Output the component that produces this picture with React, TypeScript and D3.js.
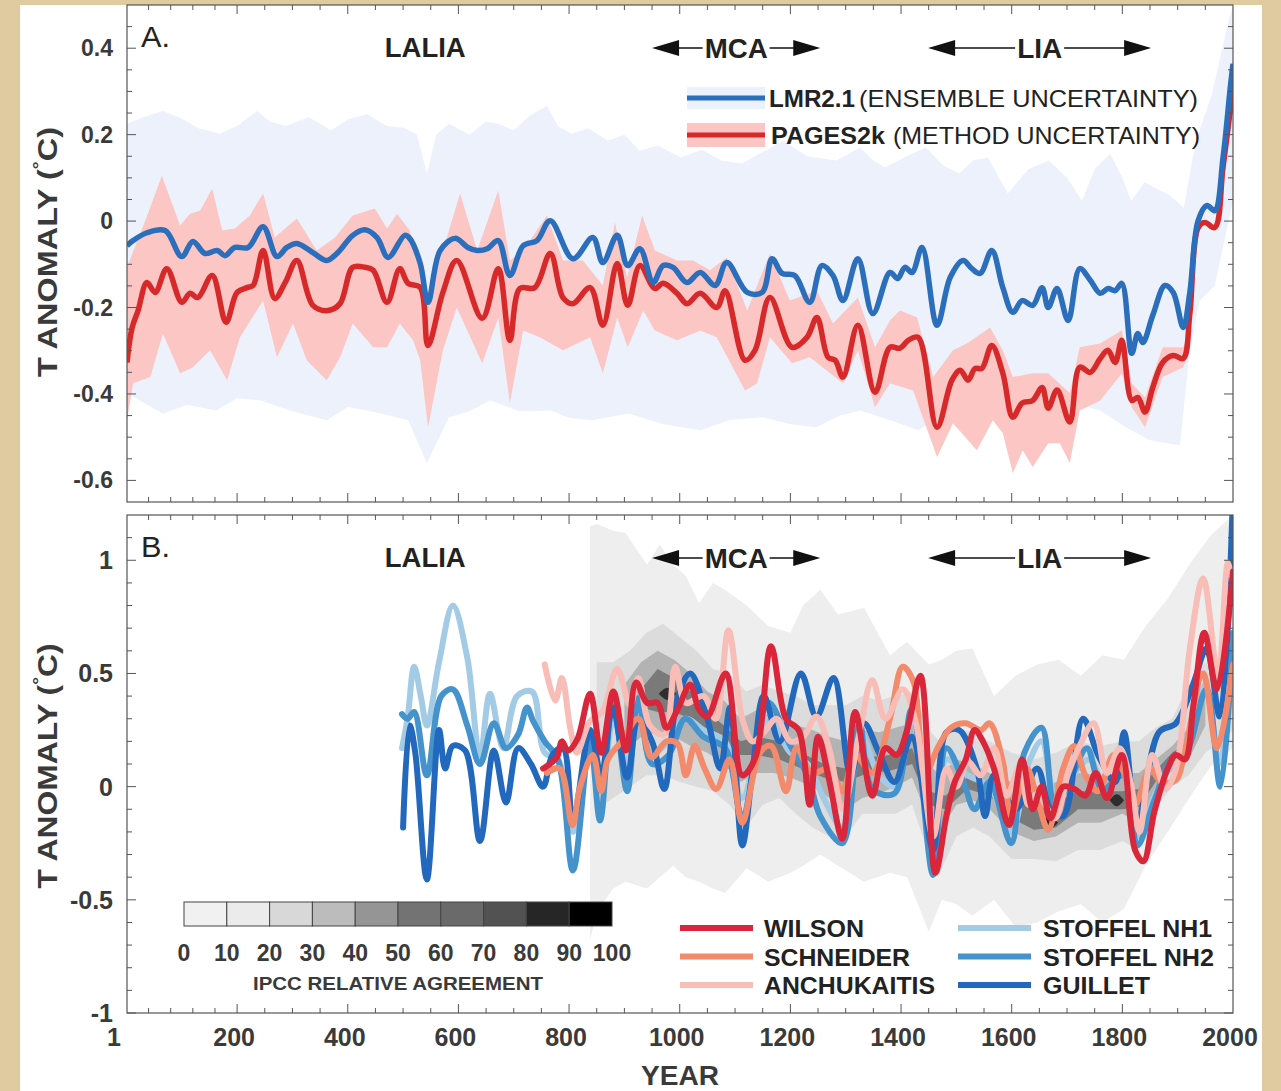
import React, { useEffect, useRef } from 'react';
import * as d3 from 'd3';

// ---- panel A: LMR2.1 and PAGES2k (year, anomaly) ----
const lmrMean = [
  [1, -0.057], [12, -0.045], [37, -0.027], [70, -0.022], [100, -0.082], [120, -0.047], [142, -0.075],
  [164, -0.068], [178, -0.08], [196, -0.061], [220, -0.061], [247, -0.013], [272, -0.082], [290, -0.061],
  [308, -0.052], [337, -0.073], [362, -0.091], [382, -0.073], [409, -0.033], [431, -0.02], [453, -0.038],
  [473, -0.084], [503, -0.033], [512, -0.04], [531, -0.098], [545, -0.188], [567, -0.068], [594, -0.04],
  [617, -0.061], [634, -0.068], [652, -0.064], [672, -0.045], [693, -0.126], [717, -0.057], [742, -0.045],
  [766, 0.001], [807, -0.087], [843, -0.038], [861, -0.096], [887, -0.033], [906, -0.103], [928, -0.064],
  [952, -0.142], [970, -0.103], [988, -0.107], [1013, -0.142], [1037, -0.119], [1064, -0.149], [1085, -0.096],
  [1122, -0.165], [1149, -0.165], [1167, -0.087], [1185, -0.121], [1208, -0.126], [1235, -0.188], [1257, -0.103],
  [1277, -0.126], [1295, -0.184], [1322, -0.087], [1349, -0.214], [1380, -0.119], [1394, -0.133], [1407, -0.107],
  [1420, -0.119], [1438, -0.061], [1465, -0.241], [1489, -0.13], [1512, -0.091], [1528, -0.11], [1543, -0.121],
  [1564, -0.068], [1584, -0.154], [1602, -0.211], [1619, -0.184], [1638, -0.195], [1655, -0.154], [1666, -0.2],
  [1682, -0.156], [1702, -0.23], [1723, -0.11], [1742, -0.137], [1760, -0.167], [1774, -0.156], [1787, -0.161],
  [1799, -0.144], [1817, -0.306], [1828, -0.26], [1837, -0.281], [1855, -0.218], [1877, -0.149], [1892, -0.165],
  [1910, -0.246], [1922, -0.165], [1937, 0.001], [1953, 0.036], [1967, 0.024], [1982, 0.147], [1995, 0.308],
  [2000, 0.364],
];

const lmrUpper = [
  [1, 0.225], [30, 0.24], [66, 0.255], [97, 0.239], [130, 0.215], [169, 0.202], [200, 0.22], [236, 0.255],
  [260, 0.23], [288, 0.22], [330, 0.24], [370, 0.21], [400, 0.235], [435, 0.248], [470, 0.22], [502, 0.216],
  [525, 0.2], [543, 0.11], [560, 0.2], [583, 0.225], [620, 0.2], [650, 0.23], [672, 0.225], [700, 0.21],
  [730, 0.245], [760, 0.267], [780, 0.22], [804, 0.202], [835, 0.215], [870, 0.186], [900, 0.2], [928, 0.163],
  [960, 0.175], [1002, 0.147], [1040, 0.165], [1075, 0.14], [1113, 0.133], [1150, 0.16], [1187, 0.186],
  [1230, 0.15], [1283, 0.14], [1326, 0.17], [1350, 0.14], [1371, 0.124], [1410, 0.15], [1445, 0.17], [1475, 0.13],
  [1505, 0.11], [1530, 0.14], [1557, 0.147], [1593, 0.064], [1630, 0.12], [1667, 0.14], [1700, 0.1], [1727, 0.047],
  [1750, 0.12], [1778, 0.156], [1800, 0.1], [1816, 0.047], [1840, 0.09], [1859, 0.077], [1885, 0.06],
  [1911, 0.031], [1933, 0.186], [1962, 0.294], [1993, 0.47], [2000, 0.498],
];

const lmrLower = [
  [1, -0.398], [30, -0.42], [66, -0.445], [110, -0.425], [162, -0.438], [200, -0.41], [243, -0.415], [300, -0.44],
  [362, -0.461], [400, -0.43], [435, -0.438], [475, -0.45], [509, -0.461], [543, -0.56], [583, -0.454],
  [620, -0.44], [657, -0.415], [710, -0.44], [767, -0.438], [800, -0.455], [841, -0.461], [908, -0.445],
  [970, -0.47], [1038, -0.484], [1090, -0.46], [1150, -0.454], [1200, -0.47], [1246, -0.477], [1290, -0.45],
  [1326, -0.438], [1380, -0.46], [1431, -0.484], [1490, -0.438], [1540, -0.43], [1593, -0.415], [1667, -0.398],
  [1710, -0.42], [1760, -0.438], [1810, -0.48], [1850, -0.507], [1904, -0.519], [1922, -0.299], [1940, -0.184],
  [1967, -0.149], [2000, 0.047],
];

const pagesMean = [
  [1, -0.327], [10, -0.248], [21, -0.207], [37, -0.142], [52, -0.165], [73, -0.11], [100, -0.188], [115, -0.167],
  [129, -0.177], [155, -0.126], [180, -0.234], [200, -0.165], [218, -0.154], [229, -0.149], [247, -0.068],
  [268, -0.179], [287, -0.142], [308, -0.091], [337, -0.195], [364, -0.207], [386, -0.191], [409, -0.107],
  [431, -0.107], [446, -0.114], [471, -0.188], [494, -0.11], [509, -0.144], [531, -0.154], [545, -0.288],
  [572, -0.165], [597, -0.091], [643, -0.225], [672, -0.11], [693, -0.276], [711, -0.156], [738, -0.154],
  [766, -0.075], [789, -0.177], [807, -0.191], [838, -0.154], [861, -0.241], [887, -0.098], [906, -0.195],
  [928, -0.103], [955, -0.156], [970, -0.144], [995, -0.167], [1013, -0.191], [1037, -0.167], [1067, -0.2],
  [1082, -0.161], [1118, -0.322], [1136, -0.299], [1163, -0.177], [1203, -0.292], [1230, -0.269], [1248, -0.223],
  [1268, -0.315], [1281, -0.322], [1295, -0.361], [1322, -0.241], [1353, -0.396], [1380, -0.292], [1398, -0.294],
  [1413, -0.276], [1431, -0.269], [1465, -0.477], [1492, -0.368], [1507, -0.345], [1521, -0.368], [1534, -0.341],
  [1546, -0.341], [1564, -0.288], [1584, -0.352], [1602, -0.454], [1619, -0.421], [1638, -0.415], [1655, -0.385],
  [1666, -0.433], [1682, -0.391], [1705, -0.465], [1723, -0.338], [1742, -0.35], [1760, -0.318], [1774, -0.299],
  [1787, -0.327], [1799, -0.276], [1817, -0.415], [1828, -0.408], [1841, -0.442], [1855, -0.385], [1873, -0.327],
  [1892, -0.311], [1910, -0.318], [1922, -0.214], [1937, -0.015], [1949, -0.003], [1967, -0.015], [1982, 0.124],
  [2000, 0.308],
];

const pagesUpper = [
  [1, -0.107], [34, 0.001], [64, 0.105], [97, -0.01], [115, 0.017], [133, 0.024], [155, 0.075], [173, -0.022],
  [196, -0.017], [223, 0.013], [247, 0.064], [268, -0.038], [308, 0.006], [344, -0.068], [377, -0.038],
  [409, 0.013], [449, 0.029], [471, -0.017], [489, 0.017], [512, -0.022], [545, -0.167], [572, -0.068],
  [603, 0.064], [634, -0.068], [672, 0.07], [693, -0.091], [717, -0.068], [760, 0.013], [789, -0.091],
  [825, -0.091], [861, -0.149], [883, -0.003], [905, -0.13], [932, 0.013], [955, -0.068], [995, -0.091],
  [1024, -0.091], [1055, -0.114], [1085, -0.084], [1122, -0.207], [1163, -0.075], [1199, -0.184], [1248, -0.161],
  [1277, -0.237], [1322, -0.177], [1353, -0.292], [1380, -0.23], [1398, -0.207], [1429, -0.223], [1458, -0.361],
  [1494, -0.299], [1519, -0.283], [1561, -0.246], [1584, -0.299], [1602, -0.361], [1638, -0.352], [1666, -0.352],
  [1705, -0.398], [1723, -0.292], [1760, -0.283], [1799, -0.253], [1817, -0.375], [1841, -0.408], [1873, -0.292],
  [1910, -0.292], [1919, -0.26],
];

const pagesLower = [
  [1, -0.462], [12, -0.375], [43, -0.361], [66, -0.26], [97, -0.352], [120, -0.338], [151, -0.299], [182, -0.368],
  [205, -0.269], [247, -0.184], [272, -0.315], [301, -0.237], [326, -0.322], [362, -0.368], [386, -0.315],
  [409, -0.237], [446, -0.292], [471, -0.292], [494, -0.237], [518, -0.276], [531, -0.322], [545, -0.477],
  [572, -0.299], [597, -0.2], [643, -0.329], [672, -0.223], [693, -0.421], [717, -0.253], [747, -0.269],
  [789, -0.299], [838, -0.269], [861, -0.352], [887, -0.223], [906, -0.292], [934, -0.207], [955, -0.253],
  [995, -0.276], [1037, -0.253], [1067, -0.269], [1118, -0.392], [1140, -0.375], [1163, -0.269], [1203, -0.329],
  [1235, -0.315], [1295, -0.375], [1322, -0.299], [1353, -0.431], [1380, -0.375], [1422, -0.392], [1465, -0.546],
  [1494, -0.468], [1537, -0.53], [1566, -0.461], [1584, -0.491], [1602, -0.583], [1620, -0.53], [1638, -0.569],
  [1666, -0.514], [1687, -0.514], [1705, -0.56], [1723, -0.438], [1760, -0.415], [1799, -0.352], [1817, -0.431],
  [1841, -0.477], [1873, -0.361], [1910, -0.338], [1919, -0.306],
];

// ---- panel B: reconstructions (year, anomaly) ----
const wilson = [
  [753, 0.08], [778, 0.13], [787, 0.2], [798, 0.16], [815, 0.21], [838, 0.41], [858, 0.15], [880, 0.42],
  [903, 0.16], [921, 0.46], [941, 0.37], [960, 0.37], [976, 0.26], [996, 0.34], [1019, 0.45], [1035, 0.34],
  [1050, 0.31], [1083, 0.5], [1113, 0.05], [1137, 0.13], [1165, 0.62], [1192, 0.3], [1215, 0.25], [1235, -0.08],
  [1250, 0.22], [1270, 0.03], [1294, -0.23], [1317, 0.33], [1348, -0.04], [1372, 0.17], [1392, 0.14], [1411, 0.25],
  [1435, 0.49], [1462, -0.38], [1482, -0.13], [1497, 0.02], [1517, 0.12], [1533, 0.25], [1548, 0.2], [1568, 0.08],
  [1595, -0.17], [1619, 0.12], [1638, -0.1], [1654, 0], [1670, -0.14], [1693, 0], [1713, -0.01], [1733, -0.04],
  [1752, 0.06], [1772, -0.05], [1799, 0.14], [1823, -0.28], [1838, -0.33], [1858, -0.11], [1882, 0.08],
  [1897, 0.14], [1913, 0.12], [1929, 0.37], [1948, 0.68], [1971, 0.43], [2000, 0.95],
];

const schneider = [
  [760, 0.06], [783, 0.08], [806, -0.17], [820, 0.0], [843, 0.14], [858, -0.02], [870, 0.12], [895, 0.2],
  [925, 0.3], [949, 0.13], [976, 0.2], [996, 0.19], [1011, 0.05], [1027, 0.18], [1045, 0.08], [1066, -0.01],
  [1090, 0.12], [1113, -0.16], [1145, 0.15], [1165, 0.18], [1192, -0.02], [1211, 0.17], [1239, 0.06], [1270, 0.08],
  [1294, -0.02], [1317, 0.14], [1348, 0.06], [1380, 0.3], [1403, 0.53], [1423, 0.46], [1443, 0.05], [1466, 0.17],
  [1490, 0.26], [1517, 0.28], [1544, 0.25], [1560, 0.28], [1584, 0.11], [1599, -0.13], [1627, 0.08], [1646, -0.05],
  [1666, -0.19], [1693, 0.08], [1713, 0.18], [1733, 0.05], [1756, -0.02], [1784, 0.14], [1803, 0.06], [1823, -0.08],
  [1850, 0.08], [1870, 0.02], [1897, 0.03], [1910, 0.12], [1946, 0.5], [1971, 0.17], [2000, 0.54],
];

const anchukaitis = [
  [756, 0.54], [775, 0.38], [787, 0.48], [802, 0.26], [814, 0.15], [838, 0.29], [860, 0.33], [887, 0.52],
  [910, 0.36], [925, 0.48], [946, 0.27], [972, 0.23], [992, 0.53], [1011, 0.37], [1043, 0.4], [1065, 0.3],
  [1088, 0.69], [1114, 0.29], [1132, 0.2], [1152, 0.24], [1175, 0.3], [1200, 0.2], [1223, 0.22], [1247, 0.31],
  [1270, 0.17], [1294, -0.1], [1325, 0.24], [1348, 0.47], [1372, 0.3], [1403, 0.43], [1427, 0.28], [1458, -0.22],
  [1482, 0.08], [1500, 0.0], [1521, 0.11], [1544, 0.05], [1568, 0.17], [1591, -0.04], [1615, 0.09], [1630, -0.08],
  [1646, -0.03], [1678, -0.14], [1701, 0.05], [1721, 0.17], [1748, 0.28], [1772, 0.06], [1795, 0.17], [1815, 0.02],
  [1831, -0.2], [1854, 0.14], [1878, -0.01], [1897, 0.08], [1922, 0.61], [1946, 0.92], [1973, 0.49], [1991, 0.99],
  [2000, 0.9],
];

const stoffelNH1 = [
  [498, 0.17], [508, 0.3], [520, 0.53], [532, 0.4], [543, 0.27], [565, 0.55], [590, 0.8], [616, 0.57], [639, 0.13],
  [657, 0.41], [681, 0.17], [706, 0.4], [733, 0.42], [756, 0.15], [780, 0.12], [807, -0.2], [838, 0.25], [860, 0.02],
  [880, 0.3], [905, 0.1], [925, 0.35], [950, 0.15], [980, 0.2], [1010, 0.3], [1043, 0.25], [1082, 0.2], [1113, -0.05],
  [1160, 0.3], [1200, 0.15], [1231, 0.1], [1260, -0.05], [1294, -0.18], [1325, 0.25], [1360, 0.05], [1390, 0.0],
  [1419, 0.3], [1458, -0.3], [1482, 0.12], [1520, 0.05], [1560, 0.0], [1599, -0.2], [1630, 0.1], [1654, 0.2],
  [1680, -0.05], [1710, 0.05], [1740, 0.12], [1770, 0.0], [1803, 0.05], [1827, -0.22], [1858, -0.04], [1890, 0.1],
  [1915, 0.15], [1950, 0.45], [1975, 0.1], [2000, 0.6],
];

const stoffelNH2 = [
  [498, 0.32], [508, 0.3], [520, 0.33], [543, 0.05], [569, 0.4], [590, 0.43], [616, 0.27], [639, 0.1], [664, 0.28],
  [686, 0.17], [708, 0.23], [724, 0.35], [735, 0.29], [756, 0.2], [780, 0.12], [807, -0.37], [838, 0.2], [856, -0.15],
  [879, 0.38], [905, -0.02], [925, 0.39], [950, 0.1], [980, 0.14], [1010, 0.3], [1043, 0.22], [1082, 0.17],
  [1113, -0.13], [1160, 0.37], [1200, 0.18], [1231, 0.05], [1254, -0.13], [1294, -0.25], [1325, 0.28],
  [1348, -0.01], [1388, -0.03], [1419, 0.34], [1458, -0.39], [1482, 0.17], [1513, 0.02], [1533, -0.1], [1560, 0.02],
  [1599, -0.25], [1623, 0.15], [1654, 0.26], [1678, -0.08], [1709, 0.05], [1736, 0.17], [1764, -0.01], [1803, 0.05],
  [1827, -0.26], [1858, -0.06], [1889, 0.12], [1913, 0.14], [1952, 0.43], [1977, 0.0], [2000, 0.68],
];

const guillet = [
  [500, -0.18], [512, 0.27], [522, 0.15], [543, -0.41], [565, 0.25], [576, 0.08], [590, 0.18], [612, 0.16],
  [639, -0.24], [664, 0.16], [686, -0.07], [708, 0.17], [731, 0.1], [753, 0.0], [770, 0.14], [789, 0.17],
  [807, -0.15], [838, 0.25], [858, 0.05], [879, 0.35], [905, 0.04], [925, 0.29], [950, 0.2], [972, -0.01],
  [995, 0.38], [1019, 0.5], [1050, 0.3], [1073, 0.08], [1091, 0.35], [1113, -0.26], [1132, 0.08], [1152, 0.4],
  [1181, 0.2], [1219, 0.5], [1247, 0.31], [1278, 0.48], [1309, 0.05], [1333, 0.28], [1360, 0.15], [1388, 0.02],
  [1419, 0.22], [1458, -0.28], [1482, 0.24], [1505, 0.25], [1537, 0.08], [1552, -0.13], [1568, 0.05], [1607, -0.1],
  [1646, 0.08], [1670, -0.1], [1693, -0.13], [1729, 0.3], [1756, 0.14], [1787, 0.02], [1803, 0.24], [1827, -0.16],
  [1866, 0.24], [1897, 0.28], [1929, 0.46], [1952, 0.61], [1976, 0.31], [2000, 1.3],
];

// IPCC relative agreement shading: [year, low, high] per level
const agree10 = [
  [838, -0.68, 1.15], [850, -0.55, 1.16], [880, -0.45, 1.13], [902, -0.42, 1.12], [941, -0.45, 0.98],
  [964, -0.4, 1.07], [988, -0.35, 0.98], [1011, -0.4, 0.93], [1035, -0.42, 0.81], [1060, -0.45, 0.9],
  [1082, -0.47, 0.87], [1121, -0.36, 0.8], [1160, -0.42, 0.71], [1200, -0.38, 0.68], [1223, -0.35, 0.8],
  [1254, -0.3, 0.87], [1286, -0.35, 0.76], [1333, -0.42, 0.79], [1380, -0.38, 0.58], [1411, -0.4, 0.64],
  [1450, -0.64, 0.54], [1474, -0.5, 0.56], [1500, -0.52, 0.6], [1529, -0.57, 0.61], [1568, -0.5, 0.4],
  [1607, -0.62, 0.49], [1646, -0.6, 0.54], [1685, -0.55, 0.56], [1725, -0.52, 0.49], [1764, -0.6, 0.58],
  [1803, -0.54, 0.56], [1842, -0.35, 0.71], [1882, -0.2, 0.83], [1921, -0.05, 0.98], [1960, 0.09, 1.11],
  [2000, 0.17, 1.2],
];
const agree30 = [
  [850, -0.1, 0.55], [880, -0.05, 0.55], [910, 0.0, 0.6], [940, 0.05, 0.68], [970, 0.05, 0.72], [1000, 0.02, 0.66],
  [1030, 0.0, 0.6], [1060, -0.02, 0.52], [1090, -0.08, 0.5], [1120, -0.18, 0.42], [1150, -0.08, 0.45],
  [1180, -0.05, 0.42], [1210, -0.12, 0.4], [1240, -0.18, 0.36], [1270, -0.22, 0.36], [1300, -0.22, 0.36],
  [1330, -0.12, 0.4], [1360, -0.12, 0.38], [1390, -0.12, 0.4], [1420, -0.08, 0.42], [1450, -0.3, 0.25],
  [1470, -0.38, 0.2], [1500, -0.22, 0.26], [1530, -0.18, 0.24], [1560, -0.22, 0.2], [1600, -0.32, 0.15],
  [1640, -0.32, 0.12], [1680, -0.33, 0.15], [1720, -0.28, 0.2], [1760, -0.28, 0.18], [1800, -0.24, 0.2],
  [1830, -0.28, 0.2], [1860, -0.1, 0.26], [1890, 0.0, 0.3], [1920, 0.05, 0.45], [1950, 0.15, 0.55],
  [1980, 0.2, 0.5], [2000, 0.25, 0.55],
];
const agree50 = [
  [900, 0.15, 0.45], [930, 0.22, 0.55], [960, 0.24, 0.6], [990, 0.22, 0.56], [1020, 0.18, 0.5], [1050, 0.15, 0.42],
  [1080, 0.1, 0.38], [1110, 0.02, 0.3], [1140, 0.06, 0.34], [1170, 0.06, 0.3], [1200, 0.04, 0.28], [1240, 0.0, 0.25],
  [1270, -0.05, 0.22], [1300, -0.1, 0.2], [1330, -0.05, 0.25], [1360, -0.03, 0.24], [1390, 0.0, 0.26],
  [1420, 0.04, 0.28], [1450, -0.15, 0.1], [1470, -0.2, 0.05], [1500, -0.08, 0.12], [1530, -0.06, 0.1],
  [1560, -0.1, 0.06], [1600, -0.2, 0.02], [1640, -0.24, -0.03], [1680, -0.22, 0.02], [1720, -0.16, 0.06],
  [1760, -0.16, 0.05], [1800, -0.12, 0.06], [1830, -0.16, 0.06], [1860, -0.02, 0.12], [1890, 0.07, 0.18],
  [1920, 0.12, 0.26], [1950, 0.27, 0.42],
];
const agree70 = [
  [930, 0.35, 0.43], [960, 0.33, 0.52], [990, 0.33, 0.48], [1020, 0.3, 0.42], [1050, 0.25, 0.33], [1080, 0.2, 0.27],
  [1110, 0.14, 0.2], [1140, 0.14, 0.22], [1180, 0.12, 0.2], [1220, 0.08, 0.15], [1260, 0.04, 0.1], [1300, 0.02, 0.08],
  [1340, 0.06, 0.13], [1380, 0.07, 0.14], [1420, 0.1, 0.17], [1450, -0.08, -0.02], [1480, -0.1, -0.04],
  [1520, -0.01, 0.04], [1560, -0.04, 0.01], [1600, -0.14, -0.06], [1640, -0.19, -0.09], [1680, -0.18, -0.07],
  [1720, -0.1, -0.02], [1760, -0.1, -0.02], [1800, -0.1, -0.02], [1830, -0.09, -0.01], [1860, 0.02, 0.07],
  [1890, 0.11, 0.15], [1920, 0.16, 0.2],
];
const agree90 = [
  [[962, 0.41, 0.41], [978, 0.37, 0.45], [994, 0.41, 0.41]],
  [[1652, -0.16, -0.16], [1668, -0.2, -0.12], [1684, -0.16, -0.16]],
  [[1777, -0.06, -0.06], [1790, -0.1, -0.02], [1803, -0.06, -0.06]],
];
const agreeColors = ['#eeeeee', '#dcdcdc', '#b3b3b3', '#7a7a7a', '#2e2e2e'];

// colour bar of the relative agreement
const agreementSteps = [0, 10, 20, 30, 40, 50, 60, 70, 80, 90, 100];
const agreementColors = ['#f1f1f1', '#ebebeb', '#d8d8d8', '#bcbcbc', '#959595', '#737373', '#6a6a6a', '#525252', '#262626', '#000000'];

const periods = [
  { label: 'MCA', start: 950, end: 1254, width: 63 },
  { label: 'LIA', start: 1449, end: 1852, width: 45 },
];
const laliaYear = 540;

const legendB = [
  { name: 'WILSON', color: '#d9263a', col: 0, row: 0, w: 100 },
  { name: 'SCHNEIDER', color: '#f38a6b', col: 0, row: 1, w: 146 },
  { name: 'ANCHUKAITIS', color: '#f8bdb6', col: 0, row: 2, w: 171 },
  { name: 'STOFFEL NH1', color: '#a3cbe5', col: 1, row: 0, w: 169 },
  { name: 'STOFFEL NH2', color: '#4593cc', col: 1, row: 1, w: 171 },
  { name: 'GUILLET', color: '#2268bd', col: 1, row: 2, w: 107 },
];

const xLabels = [1, 200, 400, 600, 800, 1000, 1200, 1400, 1600, 1800, 2000];

const FONT = '"Liberation Sans", Arial, Helvetica, sans-serif';

function App() {
  const svgRef = useRef<SVGSVGElement>(null);

  useEffect(() => {
    const svg = d3.select(svgRef.current);
    svg.selectAll('*').remove();

    // page background
    svg.append('rect').attr('width', 1281).attr('height', 1091).attr('fill', '#dfcb9f');
    svg.append('rect').attr('x', 20).attr('y', 5).attr('width', 1242).attr('height', 1086).attr('fill', '#ffffff');

    const x = d3.scaleLinear().domain([1, 2000]).range([127, 1233]);
    const yA = d3.scaleLinear().domain([-0.65, 0.5]).range([502, 5]);
    const yB = d3.scaleLinear().domain([-1, 1.2]).range([1013, 515]);

    const defs = svg.append('defs');
    defs.append('clipPath').attr('id', 'clipA').append('rect')
      .attr('x', 127).attr('y', 5).attr('width', 1106).attr('height', 497);
    defs.append('clipPath').attr('id', 'clipB').append('rect')
      .attr('x', 127).attr('y', 515).attr('width', 1106).attr('height', 498);

    const smooth = (y) => d3.line().x((d) => x(d[0])).y((d) => y(d[1])).curve(d3.curveCatmullRom.alpha(0.5));
    const straight = (y) => d3.line().x((d) => x(d[0])).y((d) => y(d[1]));
    const band = (y, upper, lower) => {
      const up = straight(y)(upper);
      const lo = straight(y)([...lower].reverse());
      return up + 'L' + lo.slice(1) + 'Z';
    };

    // ---------- panel A ----------
    const gA = svg.append('g').attr('clip-path', 'url(#clipA)');
    gA.append('path').attr('d', band(yA, lmrUpper, lmrLower)).attr('fill', '#ecf1fc');
    gA.append('path').attr('d', band(yA, pagesUpper, pagesLower)).attr('fill', '#fbc6c3');
    gA.append('path').attr('d', smooth(yA)(pagesMean)).attr('fill', 'none')
      .attr('stroke', '#d8292a').attr('stroke-width', 5.5).attr('stroke-linejoin', 'round');
    gA.append('path').attr('d', smooth(yA)(lmrMean)).attr('fill', 'none')
      .attr('stroke', '#2b6fbc').attr('stroke-width', 5.5).attr('stroke-linejoin', 'round');

    // ---------- panel B ----------
    const gB = svg.append('g').attr('clip-path', 'url(#clipB)');
    const area = d3.area().x((d) => x(d[0])).y0((d) => yB(d[1])).y1((d) => yB(d[2]));
    [agree10, agree30, agree50, agree70].forEach((lvl, i) => {
      gB.append('path').attr('d', area(lvl)).attr('fill', agreeColors[i]);
    });
    const patchArea = d3.area().x((d) => x(d[0])).y0((d) => yB(d[1])).y1((d) => yB(d[2])).curve(d3.curveBasis);
    agree90.forEach((patch) => {
      gB.append('path').attr('d', patchArea(patch)).attr('fill', agreeColors[4]);
    });

    const seriesB = [
      { d: stoffelNH1, c: legendB[3].color },
      { d: stoffelNH2, c: legendB[4].color },
      { d: guillet, c: legendB[5].color },
      { d: schneider, c: legendB[1].color },
      { d: anchukaitis, c: legendB[2].color },
      { d: wilson, c: legendB[0].color },
    ];
    seriesB.forEach((s) => {
      gB.append('path').attr('d', smooth(yB)(s.d)).attr('fill', 'none')
        .attr('stroke', s.c).attr('stroke-width', 6).attr('stroke-linejoin', 'round').attr('stroke-linecap', 'round');
    });

    // ---------- frames & ticks ----------
    const xMajor = [200, 400, 600, 800, 1000, 1200, 1400, 1600, 1800];
    const xMinor = [40, 80, 120, 160].concat(d3.range(250, 2000, 50).filter((v) => v % 200 !== 0));
    const drawFrame = (y, yMajor, yMinor) => {
      const [yb, yt] = y.range();
      const g = svg.append('g').attr('stroke', '#555').attr('stroke-width', 1).attr('fill', 'none');
      const segs = [];
      xMajor.forEach((v) => { segs.push([x(v), yb, x(v), yb - 9], [x(v), yt, x(v), yt + 9]); });
      xMinor.forEach((v) => { segs.push([x(v), yb, x(v), yb - 5], [x(v), yt, x(v), yt + 5]); });
      yMajor.forEach((v) => { segs.push([127, y(v), 136, y(v)], [1233, y(v), 1224, y(v)]); });
      yMinor.forEach((v) => { segs.push([127, y(v), 132, y(v)], [1233, y(v), 1228, y(v)]); });
      g.selectAll('line').data(segs).enter().append('line')
        .attr('x1', (d) => d[0]).attr('y1', (d) => d[1]).attr('x2', (d) => d[2]).attr('y2', (d) => d[3]);
      g.append('rect').attr('x', 127).attr('y', yt).attr('width', 1106).attr('height', yb - yt).attr('stroke-width', 1.2);
    };
    const aMajor = [-0.6, -0.4, -0.2, 0, 0.2, 0.4];
    const aMinor = d3.range(-12, 10).filter((i) => i % 4 !== 0).map((i) => i * 0.05);
    const bMajor = [-1, -0.5, 0, 0.5, 1];
    const bMinor = d3.range(-9, 12).filter((i) => i % 5 !== 0).map((i) => i * 0.1);
    drawFrame(yA, aMajor, aMinor);
    drawFrame(yB, bMajor, bMinor);

    const txt = (px, py, s, size, weight, anchor, len?) => {
      const t = svg.append('text').attr('x', px).attr('y', py).text(s)
        .attr('font-family', FONT).attr('font-size', size).attr('font-weight', weight)
        .attr('text-anchor', anchor).attr('fill', '#222');
      if (len) t.attr('textLength', len).attr('lengthAdjust', 'spacingAndGlyphs');
      return t;
    };

    // y tick labels
    aMajor.forEach((v) => txt(113, yA(v) + 8, String(v), 23, 'bold', 'end').attr('fill', '#3a3a3a'));
    bMajor.forEach((v) => txt(113, yB(v) + 9, String(v), 25, 'bold', 'end').attr('fill', '#3a3a3a'));
    // x tick labels
    xLabels.forEach((v) => txt(x(v) + (v === 1 ? -13 : -3), 1046, String(v), 25, 'bold', 'middle').attr('fill', '#3a3a3a'));
    txt(680, 1085, 'YEAR', 27, 'bold', 'middle', 78).attr('fill', '#3a3a3a');

    // y axis titles
    [[252, 250], [766, 245]].forEach(([cy, len]) => {
      const t = svg.append('text').attr('transform', `translate(57,${cy}) rotate(-90)`)
        .attr('font-family', FONT).attr('font-size', 28).attr('font-weight', 'bold')
        .attr('text-anchor', 'middle').attr('fill', '#3a3a3a')
        .attr('textLength', len).attr('lengthAdjust', 'spacingAndGlyphs');
      t.append('tspan').text('T ANOMALY (');
      t.append('tspan').attr('font-size', 17).attr('dy', -12).text('°');
      t.append('tspan').attr('dy', 12).text('C)');
    });

    // panel letters and periods
    const drawHeader = (top, letter) => {
      txt(141, top + 42, letter, 29, 'normal', 'start', 29);
      txt(x(laliaYear), top + 52, 'LALIA', 28, 'bold', 'middle', 81);
      const cy = top + 43;
      periods.forEach((p) => {
        const x0 = x(p.start);
        const x1 = x(p.end);
        const xc = (x0 + x1) / 2;
        const g = svg.append('g');
        g.append('line').attr('x1', x0 + 20).attr('x2', xc - p.width / 2 - 2).attr('y1', cy).attr('y2', cy)
          .attr('stroke', '#111').attr('stroke-width', 1.5);
        g.append('line').attr('x1', xc + p.width / 2 + 2).attr('x2', x1 - 20).attr('y1', cy).attr('y2', cy)
          .attr('stroke', '#111').attr('stroke-width', 1.5);
        g.append('path').attr('d', `M${x0},${cy}L${x0 + 27},${cy - 8}L${x0 + 27},${cy + 8}Z`).attr('fill', '#111');
        g.append('path').attr('d', `M${x1},${cy}L${x1 - 27},${cy - 8}L${x1 - 27},${cy + 8}Z`).attr('fill', '#111');
        txt(xc, cy + 10, p.label, 28, 'bold', 'middle', p.width);
      });
    };
    drawHeader(5, 'A.');
    drawHeader(515, 'B.');

    // legend A
    svg.append('rect').attr('x', 687).attr('y', 87).attr('width', 78).attr('height', 22).attr('fill', '#ecf1fc');
    svg.append('line').attr('x1', 687).attr('x2', 765).attr('y1', 98).attr('y2', 98).attr('stroke', '#2b6fbc').attr('stroke-width', 5);
    svg.append('rect').attr('x', 687).attr('y', 123).attr('width', 78).attr('height', 24).attr('fill', '#fbc6c3');
    svg.append('line').attr('x1', 687).attr('x2', 765).attr('y1', 135).attr('y2', 135).attr('stroke', '#d8292a').attr('stroke-width', 5);
    txt(769, 107, 'LMR2.1', 24, 'bold', 'start', 86);
    txt(859, 107, '(ENSEMBLE UNCERTAINTY)', 24, 'normal', 'start', 339);
    txt(771, 144, 'PAGES2k', 24, 'bold', 'start', 114);
    txt(893, 144, '(METHOD UNCERTAINTY)', 24, 'normal', 'start', 307);

    // legend B
    legendB.forEach((l) => {
      const lx = l.col === 0 ? 680 : 958;
      const tx = l.col === 0 ? 764 : 1043;
      const ly = 928 + l.row * 28.5;
      svg.append('line').attr('x1', lx).attr('x2', lx + 73).attr('y1', ly).attr('y2', ly)
        .attr('stroke', l.color).attr('stroke-width', 6);
      txt(tx, ly + 9, l.name, 24, 'bold', 'start', l.w);
    });

    // colour bar
    const cb = d3.scaleLinear().domain([0, 100]).range([184, 612]);
    svg.append('g').selectAll('rect').data(agreementColors).enter().append('rect')
      .attr('x', (d, i) => cb(agreementSteps[i])).attr('y', 902)
      .attr('width', (d, i) => cb(agreementSteps[i + 1]) - cb(agreementSteps[i])).attr('height', 24)
      .attr('fill', (d) => d).attr('stroke', '#444').attr('stroke-width', 1);
    agreementSteps.forEach((v) => txt(cb(v), 961, String(v), 23, 'bold', 'middle').attr('fill', '#3a3a3a'));
    txt(398, 990, 'IPCC RELATIVE AGREEMENT', 19, 'bold', 'middle', 290).attr('fill', '#3a3a3a');
  }, []);

  return (
    <svg
      ref={svgRef}
      width={1281}
      height={1091}
      style={{ position: 'absolute', left: 0, top: 0, display: 'block' }}
    />
  );
}

export default App;
